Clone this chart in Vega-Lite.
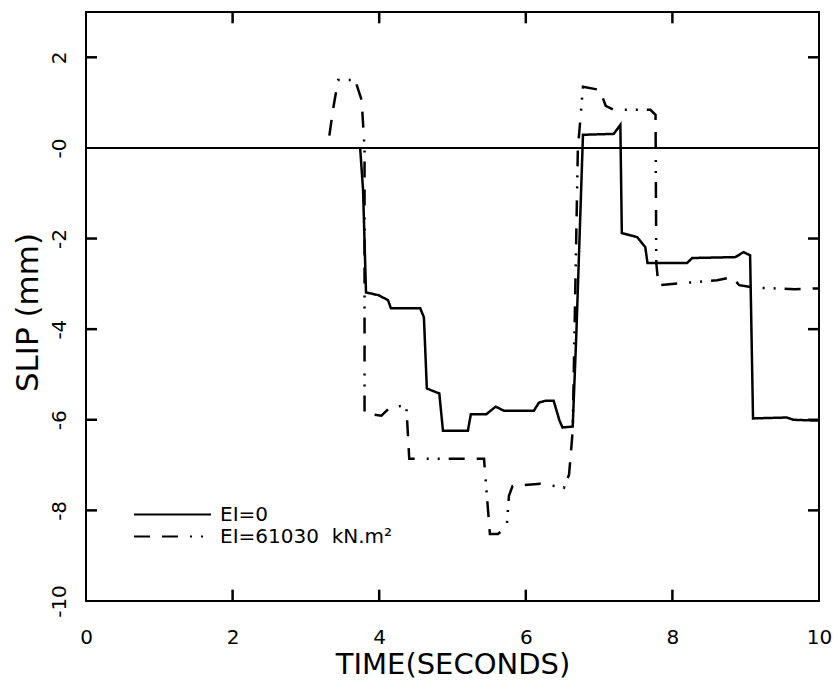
{
  "$schema": "https://vega.github.io/schema/vega-lite/v6.json",
  "width": 733,
  "height": 589,
  "autosize": {"type": "none"},
  "padding": {"left": 86, "top": 12, "right": 18, "bottom": 81},
  "background": "white",
  "config": {
    "view": {"stroke": "black", "strokeWidth": 2},
    "font": "DejaVu Sans",
    "axis": {"domain": false, "ticks": false, "grid": false, "labelColor": "black", "titleColor": "black", "labelFont": "DejaVu Sans", "titleFont": "DejaVu Sans", "labelFontSize": 20, "titleFontSize": 29, "titleFontWeight": "normal"}
  },
  "datasets": {
    "curves": [
      {"i": 1, "series": "EI=0", "t": 3.74, "slip": 0},
      {"i": 2, "series": "EI=0", "t": 3.78, "slip": -0.93},
      {"i": 3, "series": "EI=0", "t": 3.82, "slip": -3.19},
      {"i": 4, "series": "EI=0", "t": 3.99, "slip": -3.25},
      {"i": 5, "series": "EI=0", "t": 4.12, "slip": -3.36},
      {"i": 6, "series": "EI=0", "t": 4.16, "slip": -3.54},
      {"i": 7, "series": "EI=0", "t": 4.56, "slip": -3.54},
      {"i": 8, "series": "EI=0", "t": 4.61, "slip": -3.74},
      {"i": 9, "series": "EI=0", "t": 4.65, "slip": -5.31},
      {"i": 10, "series": "EI=0", "t": 4.82, "slip": -5.42},
      {"i": 11, "series": "EI=0", "t": 4.87, "slip": -6.24},
      {"i": 12, "series": "EI=0", "t": 5.21, "slip": -6.24},
      {"i": 13, "series": "EI=0", "t": 5.25, "slip": -5.88},
      {"i": 14, "series": "EI=0", "t": 5.46, "slip": -5.88},
      {"i": 15, "series": "EI=0", "t": 5.52, "slip": -5.8},
      {"i": 16, "series": "EI=0", "t": 5.59, "slip": -5.71},
      {"i": 17, "series": "EI=0", "t": 5.7, "slip": -5.8},
      {"i": 18, "series": "EI=0", "t": 6.11, "slip": -5.8},
      {"i": 19, "series": "EI=0", "t": 6.18, "slip": -5.62},
      {"i": 20, "series": "EI=0", "t": 6.27, "slip": -5.58},
      {"i": 21, "series": "EI=0", "t": 6.38, "slip": -5.58},
      {"i": 22, "series": "EI=0", "t": 6.46, "slip": -6.02},
      {"i": 23, "series": "EI=0", "t": 6.5, "slip": -6.17},
      {"i": 24, "series": "EI=0", "t": 6.64, "slip": -6.15},
      {"i": 25, "series": "EI=0", "t": 6.69, "slip": -4.09},
      {"i": 26, "series": "EI=0", "t": 6.78, "slip": 0.29},
      {"i": 27, "series": "EI=0", "t": 7.2, "slip": 0.31},
      {"i": 28, "series": "EI=0", "t": 7.29, "slip": 0.51},
      {"i": 29, "series": "EI=0", "t": 7.31, "slip": -1.88},
      {"i": 30, "series": "EI=0", "t": 7.52, "slip": -1.97},
      {"i": 31, "series": "EI=0", "t": 7.63, "slip": -2.19},
      {"i": 32, "series": "EI=0", "t": 7.66, "slip": -2.54},
      {"i": 33, "series": "EI=0", "t": 8.2, "slip": -2.54},
      {"i": 34, "series": "EI=0", "t": 8.27, "slip": -2.43},
      {"i": 35, "series": "EI=0", "t": 8.86, "slip": -2.41},
      {"i": 36, "series": "EI=0", "t": 8.97, "slip": -2.3},
      {"i": 37, "series": "EI=0", "t": 9.06, "slip": -2.37},
      {"i": 38, "series": "EI=0", "t": 9.1, "slip": -5.97},
      {"i": 39, "series": "EI=0", "t": 9.56, "slip": -5.95},
      {"i": 40, "series": "EI=0", "t": 9.65, "slip": -6.0},
      {"i": 41, "series": "EI=0", "t": 10.0, "slip": -6.02},
      {"i": 1, "series": "EI=61030 kN.m²", "t": 3.32, "slip": 0.27},
      {"i": 2, "series": "EI=61030 kN.m²", "t": 3.37, "slip": 0.85},
      {"i": 3, "series": "EI=61030 kN.m²", "t": 3.44, "slip": 1.5},
      {"i": 4, "series": "EI=61030 kN.m²", "t": 3.67, "slip": 1.5},
      {"i": 5, "series": "EI=61030 kN.m²", "t": 3.76, "slip": 1.06},
      {"i": 6, "series": "EI=61030 kN.m²", "t": 3.8, "slip": 0},
      {"i": 7, "series": "EI=61030 kN.m²", "t": 3.8, "slip": -5.86},
      {"i": 8, "series": "EI=61030 kN.m²", "t": 4.03, "slip": -5.91},
      {"i": 9, "series": "EI=61030 kN.m²", "t": 4.16, "slip": -5.71},
      {"i": 10, "series": "EI=61030 kN.m²", "t": 4.37, "slip": -5.69},
      {"i": 11, "series": "EI=61030 kN.m²", "t": 4.41, "slip": -6.86},
      {"i": 12, "series": "EI=61030 kN.m²", "t": 5.43, "slip": -6.86},
      {"i": 13, "series": "EI=61030 kN.m²", "t": 5.51, "slip": -8.52},
      {"i": 14, "series": "EI=61030 kN.m²", "t": 5.62, "slip": -8.52},
      {"i": 15, "series": "EI=61030 kN.m²", "t": 5.74, "slip": -8.36},
      {"i": 16, "series": "EI=61030 kN.m²", "t": 5.77, "slip": -7.68},
      {"i": 17, "series": "EI=61030 kN.m²", "t": 5.82, "slip": -7.46},
      {"i": 18, "series": "EI=61030 kN.m²", "t": 6.2, "slip": -7.41},
      {"i": 19, "series": "EI=61030 kN.m²", "t": 6.52, "slip": -7.5},
      {"i": 20, "series": "EI=61030 kN.m²", "t": 6.59, "slip": -7.21},
      {"i": 21, "series": "EI=61030 kN.m²", "t": 6.64, "slip": -6.24},
      {"i": 22, "series": "EI=61030 kN.m²", "t": 6.71, "slip": -0.04},
      {"i": 23, "series": "EI=61030 kN.m²", "t": 6.78, "slip": 1.35},
      {"i": 24, "series": "EI=61030 kN.m²", "t": 7.01, "slip": 1.28},
      {"i": 25, "series": "EI=61030 kN.m²", "t": 7.09, "slip": 0.93},
      {"i": 26, "series": "EI=61030 kN.m²", "t": 7.2, "slip": 0.84},
      {"i": 27, "series": "EI=61030 kN.m²", "t": 7.7, "slip": 0.84},
      {"i": 28, "series": "EI=61030 kN.m²", "t": 7.77, "slip": 0.73},
      {"i": 29, "series": "EI=61030 kN.m²", "t": 7.78, "slip": -2.54},
      {"i": 30, "series": "EI=61030 kN.m²", "t": 7.81, "slip": -3.03},
      {"i": 31, "series": "EI=61030 kN.m²", "t": 8.61, "slip": -2.92},
      {"i": 32, "series": "EI=61030 kN.m²", "t": 8.82, "slip": -2.85},
      {"i": 33, "series": "EI=61030 kN.m²", "t": 8.91, "slip": -3.03},
      {"i": 34, "series": "EI=61030 kN.m²", "t": 9.1, "slip": -3.08},
      {"i": 35, "series": "EI=61030 kN.m²", "t": 9.67, "slip": -3.12},
      {"i": 36, "series": "EI=61030 kN.m²", "t": 10.0, "slip": -3.1}
    ],
    "zero": [{"slip": 0}],
    "xticks": [{"t": 2}, {"t": 4}, {"t": 6}, {"t": 8}],
    "yticks": [{"slip": -8}, {"slip": -6}, {"slip": -4}, {"slip": -2}, {"slip": 2}]
  },
  "layer": [
    {
      "data": {"name": "curves"},
      "mark": {"type": "line", "color": "black", "strokeWidth": 2.5, "clip": true},
      "encoding": {
        "x": {"field": "t", "type": "quantitative", "scale": {"domain": [0, 10], "nice": false, "zero": false},
          "axis": {"orient": "bottom", "values": [0, 2, 4, 6, 8, 10], "format": "d", "labelPadding": 26, "title": "TIME(SECONDS)", "titlePadding": 3, "labelFlush": false, "labelOverlap": false}},
        "y": {"field": "slip", "type": "quantitative", "scale": {"domain": [-10, 3], "nice": false, "zero": false},
          "axis": {"orient": "left", "values": [-10, -8, -6, -4, -2, 0, 2], "labelAngle": -90, "labelPadding": 17, "labelExpr": "datum.value == 0 ? '-0' : '' + datum.value", "title": "SLIP (mm)", "titleFontSize": 31, "titlePadding": 5, "titleY": 300, "labelFlush": false, "labelOverlap": false,
            "encode": {"labels": {"update": {"dx": {"signal": "datum.value == -10 ? 19 : 0"}}}}}},
        "strokeDash": {"field": "series", "type": "nominal",
          "scale": {"domain": ["EI=0", "EI=61030 kN.m²"], "range": [[1, 0], [16, 12, 16, 12, 2, 9, 2, 9]]},
          "legend": {"orient": "none", "legendX": 47, "legendY": 492, "title": null, "symbolType": "stroke", "symbolSize": 5929, "symbolStrokeWidth": 2, "symbolStrokeColor": "black", "clipHeight": 21, "rowPadding": 1, "labelFontSize": 20, "labelFont": "DejaVu Sans", "labelColor": "black", "labelOffset": 8, "labelLimit": 400,
            "labelExpr": "datum.value == 'EI=0' ? 'EI=0' : 'EI=61030\u00a0\u00a0kN.m²'"}},
        "order": {"field": "i", "type": "quantitative"}
      }
    },
    {
      "data": {"name": "zero"},
      "mark": {"type": "rule", "color": "black", "strokeWidth": 2},
      "encoding": {
        "y": {"field": "slip", "type": "quantitative"}
      }
    },
    {
      "data": {"name": "xticks"},
      "mark": {"type": "rule", "color": "black", "strokeWidth": 2.5, "clip": true},
      "encoding": {
        "x": {"field": "t", "type": "quantitative"},
        "y": {"datum": -10, "type": "quantitative"},
        "y2": {"datum": -9.75}
      }
    },
    {
      "data": {"name": "xticks"},
      "mark": {"type": "rule", "color": "black", "strokeWidth": 2.5, "clip": true},
      "encoding": {
        "x": {"field": "t", "type": "quantitative"},
        "y": {"datum": 3, "type": "quantitative"},
        "y2": {"datum": 2.75}
      }
    },
    {
      "data": {"name": "yticks"},
      "mark": {"type": "rule", "color": "black", "strokeWidth": 2.5, "clip": true},
      "encoding": {
        "y": {"field": "slip", "type": "quantitative"},
        "x": {"datum": 0, "type": "quantitative"},
        "x2": {"datum": 0.15}
      }
    },
    {
      "data": {"name": "yticks"},
      "mark": {"type": "rule", "color": "black", "strokeWidth": 2.5, "clip": true},
      "encoding": {
        "y": {"field": "slip", "type": "quantitative"},
        "x": {"datum": 10, "type": "quantitative"},
        "x2": {"datum": 9.85}
      }
    }
  ]
}
